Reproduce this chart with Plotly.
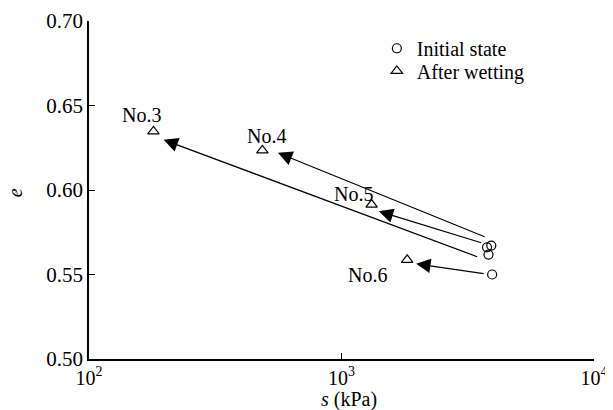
import numpy as np
import plotly.graph_objects as go

# ---- data ----
samples = ["No.3", "No.4", "No.5", "No.6"]
initial_s = [3820, 3920, 3770, 3950]          # kPa
initial_e = [0.5618, 0.5671, 0.5661, 0.5500]
wet_s = [180, 486, 1316, 1820]                # kPa
wet_e = [0.6347, 0.6234, 0.5914, 0.5587]

# arrows (tail -> head)
arrow_tail_s = [3494, 3738, 3625, 3704]
arrow_tail_e = [0.5602, 0.5720, 0.5685, 0.5504]
arrow_head_s = [197.5, 560, 1405, 1975]
arrow_head_e = [0.6297, 0.6220, 0.5874, 0.5563]

# sample label positions
label_s = [161.6, 505, 1116, 1273]
label_e = [0.6441, 0.6317, 0.5979, 0.5500]

x_title = "<i>s</i> (kPa)"
y_title = "<i>e</i>"
x_tickvals = [100, 1000, 10000]
x_ticktext = ["10<sup>2</sup>", "10<sup>3</sup>", "10<sup>4</sup>"]
y_tickvals = [0.50, 0.55, 0.60, 0.65, 0.70]
y_ticktext = ["0.50", "0.55", "0.60", "0.65", "0.70"]

FONT = "Liberation Serif"
FS = 20

fig = go.Figure()
fig.add_trace(go.Scatter(
    x=initial_s, y=initial_e, mode="markers", name="Initial state", legend="legend",
    marker=dict(symbol="circle-open", size=9, color="black", line=dict(width=1.2)),
))
fig.add_trace(go.Scatter(
    x=wet_s, y=wet_e, mode="markers", name="After wetting", legend="legend2",
    marker=dict(symbol="triangle-up-open", size=10, color="black", line=dict(width=1.2)),
))

annotations = []
for ts, te, hs, he in zip(arrow_tail_s, arrow_tail_e, arrow_head_s, arrow_head_e):
    annotations.append(dict(
        x=np.log10(hs), y=he, ax=np.log10(ts), ay=te,
        xref="x", yref="y", axref="x", ayref="y",
        text="", showarrow=True, arrowhead=2, arrowsize=2.4, arrowwidth=1.2,
        arrowcolor="black", standoff=0, startstandoff=0,
    ))
for name, ls, le in zip(samples, label_s, label_e):
    annotations.append(dict(
        x=np.log10(ls), y=le, xref="x", yref="y", text=name, showarrow=False,
        font=dict(family=FONT, size=FS, color="black"),
    ))
# axis titles
annotations.append(dict(x=0.5144, y=-0.1197, xref="paper", yref="paper", text=x_title,
                        showarrow=False, xanchor="center", yanchor="middle",
                        font=dict(family=FONT, size=FS, color="black")))
annotations.append(dict(x=-0.1464, y=0.4905, xref="paper", yref="paper", text=y_title,
                        showarrow=False, xanchor="center", yanchor="middle", textangle=-90,
                        font=dict(family=FONT, size=FS, color="black")))

legend_style = dict(xanchor="left", yanchor="top", bgcolor="rgba(0,0,0,0)",
                    font=dict(family=FONT, size=FS, color="black"))

fig.update_layout(
    width=605, height=402,
    margin=dict(l=81, r=18.6, t=13, b=51.4, autoexpand=False),
    paper_bgcolor="white", plot_bgcolor="white",
    font=dict(family=FONT, size=FS, color="black"),
    showlegend=True,
    legend=dict(x=0.57, y=0.977, **legend_style),
    legend2=dict(x=0.57, y=0.910, **legend_style),
    annotations=annotations,
    xaxis=dict(type="log", range=[2, 4], tickvals=x_tickvals, ticktext=x_ticktext,
               ticks="inside", ticklen=6, tickwidth=1.2, tickcolor="black",
               showline=True, linecolor="black", linewidth=1.5, showgrid=False,
               zeroline=False, automargin=False,
               tickfont=dict(family=FONT, size=FS)),
    yaxis=dict(range=[0.5, 0.7], tickvals=y_tickvals, ticktext=y_ticktext,
               ticks="inside", ticklen=6, tickwidth=1.2, tickcolor="black",
               showline=True, linecolor="black", linewidth=1.5, showgrid=False,
               zeroline=False, automargin=False,
               tickfont=dict(family=FONT, size=21)),
)

fig.write_html("out.html")
